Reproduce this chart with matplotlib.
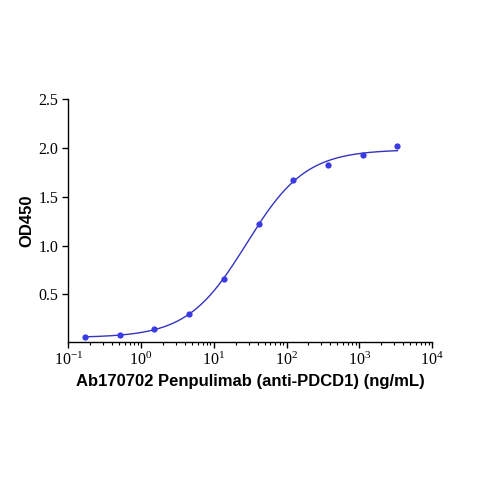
import numpy as np
import matplotlib
matplotlib.use('Agg')
from matplotlib import pyplot as plt
from matplotlib.ticker import LogLocator, NullFormatter

plt.rcParams['font.family'] = 'Liberation Serif'
plt.rcParams['mathtext.fontset'] = 'custom'
plt.rcParams['mathtext.rm'] = 'Liberation Serif'
plt.rcParams['mathtext.it'] = 'Liberation Serif'

# Penpulimab ELISA, 3-fold dilution series
conc = [0.169, 0.508, 1.524, 4.572, 13.72, 41.15, 123.5, 370.4, 1111, 3333]
od450 = [0.061, 0.081, 0.143, 0.294, 0.654, 1.225, 1.677, 1.821, 1.928, 2.016]

x = np.array(conc)
y = np.array(od450)

# 4PL fit: grid over EC50 / hill, bottom and top solved by least squares
best = None
for ec50 in np.logspace(0.8, 2.0, 241):
    for hill in np.linspace(0.6, 2.0, 141):
        f = 1.0 / (1.0 + (ec50 / x) ** hill)
        A = np.column_stack([1 - f, f])
        coef, *_ = np.linalg.lstsq(A, y, rcond=None)
        err = np.sum((A @ coef - y) ** 2)
        if best is None or err < best[0]:
            best = (err, ec50, hill, coef[0], coef[1])
_, ec50, hill, bottom, top = best

xs = np.logspace(np.log10(x.min()), np.log10(x.max()), 300)
ys = bottom + (top - bottom) / (1.0 + (ec50 / xs) ** hill)

fig = plt.figure(figsize=(4.79, 4.79), dpi=100)
ax = fig.add_axes([0.1426, 0.2866, 0.902 - 0.1426, 0.7927 - 0.2866])

ax.plot(xs, ys, color='#3434c0', lw=1.0)
ax.plot(x, y, 'o', color='#3b3be6', ms=4.5, mec='none')

ax.set_xscale('log')
ax.set_xlim(0.1, 1e4)
ax.set_ylim(0.013, 2.5)
ax.set_yticks([0.5, 1.0, 1.5, 2.0, 2.5])
ax.set_yticklabels(['0.5', '1.0', '1.5', '2.0', '2.5'])
ax.xaxis.set_major_locator(LogLocator(base=10, numticks=10))
ax.xaxis.set_minor_locator(LogLocator(base=10, subs=np.arange(2, 10), numticks=10))
ax.xaxis.set_minor_formatter(NullFormatter())

for s in ['top', 'right']:
    ax.spines[s].set_visible(False)
for s in ['left', 'bottom']:
    ax.spines[s].set_linewidth(1.0)

ax.tick_params(axis='both', which='major', direction='out', length=4, width=1,
               labelsize=11.5, colors='black', pad=3)
ax.tick_params(axis='x', which='minor', direction='out', length=2.5, width=0.8)

ax.set_xlabel('Ab170702 Penpulimab (anti-PDCD1) (ng/mL)', family='Liberation Sans',
              fontweight='bold', fontsize=12, labelpad=4)
ax.set_ylabel('OD450', family='Liberation Sans', fontweight='bold',
              fontsize=12, labelpad=3)

fig.savefig('out.png', dpi=100)
